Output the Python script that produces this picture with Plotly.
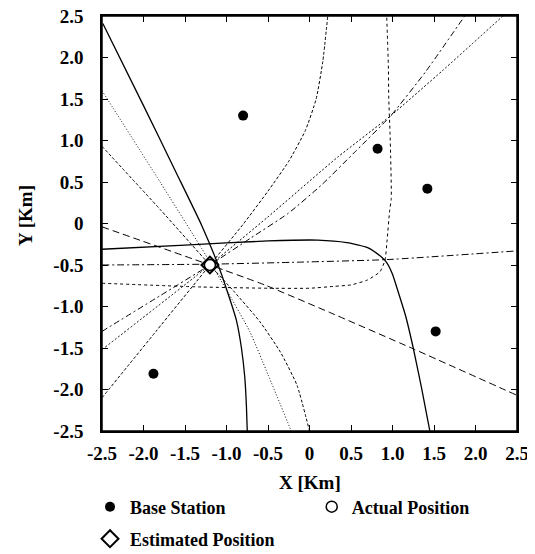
import plotly.graph_objects as go

# ---- data ----
station_x = [-0.8, 0.82, 1.42, 1.52, -1.88]
station_y = [1.3, 0.9, 0.42, -1.3, -1.81]
actual_x = [-1.2]
actual_y = [-0.5]
estimated_x = [-1.2]
estimated_y = [-0.5]

# hyperbola curves
curve_a_x = [-2.49, -2.0, -1.6, -1.3, -1.12, -0.98, -0.88, -0.82, -0.78, -0.76, -0.75]
curve_a_y = [2.41, 1.42, 0.60, -0.02, -0.45, -0.85, -1.17, -1.50, -1.85, -2.2, -2.5]
curve_b_x = [-2.5, -1.5, -0.5, 0.1, 0.45, 0.7, 0.85, 0.93, 1.0, 1.08, 1.16, 1.25, 1.35, 1.45]
curve_b_y = [-0.31, -0.26, -0.21, -0.20, -0.23, -0.29, -0.39, -0.47, -0.61, -0.86, -1.12, -1.5, -1.98, -2.5]
curve_c_x = [-2.5, -1.8, -1.3, -1.0, -0.72, -0.5, -0.22]
curve_c_y = [1.6, 0.5, -0.3, -0.8, -1.3, -1.82, -2.5]
curve_d_x = [-2.5, -1.8, -1.2, -0.9, -0.6, -0.35, -0.15, 0.0]
curve_d_y = [0.93, 0.17, -0.5, -0.83, -1.18, -1.55, -1.95, -2.5]
curve_e_x = [-2.5, -1.2, -0.54, 0.24, 1.25, 2.5]
curve_e_y = [-0.04, -0.5, -0.74, -1.07, -1.51, -2.07]
curve_f_x = [-2.5, -1.2, -0.1, 0.93, 2.5]
curve_f_y = [-0.50, -0.49, -0.465, -0.435, -0.33]
curve_g_x = [-2.5, -1.3, -0.5, 0.0, 0.3, 0.5, 0.7, 0.85, 0.91, 0.935, 0.966, 0.985, 0.978, 0.97, 0.955, 0.95, 0.93]
curve_g_y = [-0.72, -0.765, -0.78, -0.78, -0.757, -0.74, -0.68, -0.58, -0.44, -0.2, 0.16, 0.3, 0.8, 1.1, 1.5, 1.9, 2.5]
curve_h_x = [-2.5, -1.85, -1.2, -0.8, -0.5, -0.25, -0.05, 0.08, 0.16, 0.22]
curve_h_y = [-2.1, -1.3, -0.5, -0.01, 0.39, 0.75, 1.12, 1.5, 1.95, 2.5]
curve_i_x = [-2.5, -1.8, -1.2, -0.7, -0.26, 0.14, 0.545, 0.98, 1.4, 1.87]
curve_i_y = [-1.30, -0.87, -0.5, -0.17, 0.12, 0.46, 0.86, 1.30, 1.83, 2.5]
curve_j_x = [-2.5, -1.2, -0.5, 0.34, 0.98, 1.6, 2.33]
curve_j_y = [-1.52, -0.5, 0.08, 0.80, 1.30, 1.84, 2.5]

tick_vals = [-2.5, -2.0, -1.5, -1.0, -0.5, 0, 0.5, 1.0, 1.5, 2.0, 2.5]
tick_text = ["-2.5", "-2.0", "-1.5", "-1.0", "-0.5", "0", "0.5", "1.0", "1.5", "2.0", "2.5"]
x_title = "X [Km]"
y_title = "Y [Km]"

FONT = "Liberation Serif, Times New Roman, serif"

curves = [
    (curve_a_x, curve_a_y, "solid", 1.3),
    (curve_b_x, curve_b_y, "solid", 1.3),
    (curve_c_x, curve_c_y, "1px,2px", 1.0),
    (curve_d_x, curve_d_y, "3px,2px", 1.0),
    (curve_e_x, curve_e_y, "7px,4px", 1.0),
    (curve_f_x, curve_f_y, "7px,3px,2px,3px", 1.0),
    (curve_g_x, curve_g_y, "3px,3px", 1.0),
    (curve_h_x, curve_h_y, "3px,2px", 1.0),
    (curve_i_x, curve_i_y, "6px,3px,2px,3px", 1.0),
    (curve_j_x, curve_j_y, "2px,2px", 1.0),
]

fig = go.Figure()
for cx, cy, dash, w in curves:
    fig.add_trace(go.Scatter(
        x=cx, y=cy, mode="lines", showlegend=False, hoverinfo="skip",
        line=dict(color="black", width=w, dash=dash, shape="spline", smoothing=0.5),
    ))

fig.add_trace(go.Scatter(
    x=station_x, y=station_y, mode="markers", name="Base Station",
    marker=dict(symbol="circle", size=10, color="black"), legend="legend",
))
fig.add_trace(go.Scatter(
    x=actual_x, y=actual_y, mode="markers", name="Actual Position",
    marker=dict(symbol="circle", size=11, color="white", line=dict(color="black", width=1.5)),
    legend="legend2",
))
fig.add_trace(go.Scatter(
    x=estimated_x, y=estimated_y, mode="markers", name="Estimated Position",
    marker=dict(symbol="diamond", size=13, color="rgba(255,255,255,0)", line=dict(color="black", width=2)),
    legend="legend3",
))

TICKFONT = dict(family=FONT, size=19, color="black", weight="bold")
TITLEFONT = dict(family=FONT, size=19, color="black", weight="bold")
LEGFONT = dict(family=FONT, size=18, color="black", weight="bold")

axis_common = dict(
    range=[-2.5, 2.5], tickvals=tick_vals, ticktext=tick_text,
    ticks="inside", ticklen=6, tickwidth=1.2, tickcolor="black",
    showline=True, linecolor="black", linewidth=1.5, mirror="ticks",
    showgrid=False, zeroline=False, tickfont=TICKFONT, automargin=False,
    ticklabeloverflow="allow",
)

def leg(x, y):
    return dict(orientation="h", xref="container", yref="container",
                x=x, xanchor="left", y=y, yanchor="middle",
                font=LEGFONT, bgcolor="rgba(0,0,0,0)")

fig.update_layout(
    width=535, height=554,
    margin=dict(l=94, r=26, t=8, b=131),
    paper_bgcolor="white", plot_bgcolor="white",
    font=dict(family=FONT, color="black"),
    xaxis=dict(**axis_common, ticklabelstandoff=4, layer="above traces"),
    yaxis=dict(**axis_common, ticklabelstandoff=13, layer="above traces"),
    legend=leg(0.1533, 0.0993),
    legend2=leg(0.5677, 0.0993),
    legend3=leg(0.1533, 0.0415),
    shapes=[
        dict(type="rect", xref="paper", yref="paper", x0=0, y0=0, x1=1, y1=1,
             line=dict(color="black", width=1.5), fillcolor="rgba(0,0,0,0)", layer="above"),
    ],
    annotations=[
        dict(text=x_title, xref="paper", yref="paper", x=0.5, y=-0.123,
             xanchor="center", yanchor="middle", showarrow=False, font=TITLEFONT),
        dict(text=y_title, xref="paper", yref="paper", x=-0.1855, y=0.518,
             xanchor="center", yanchor="middle", showarrow=False, font=TITLEFONT,
             textangle=-90),
    ],
)

fig.write_html("out.html")
